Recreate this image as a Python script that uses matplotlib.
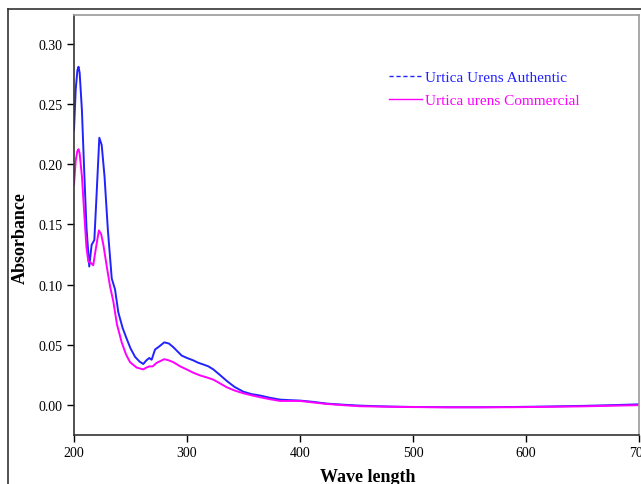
import matplotlib.pyplot as plt
from matplotlib.lines import Line2D

# wavelength (nm) / absorbance
wl_auth = [200, 201.5, 203, 204, 205, 207, 209, 211, 213.5, 215.6, 218, 220, 222.4, 224.5,
           227, 230, 233.4, 236.3, 239.2, 243, 246.6, 250, 254, 258, 261.3, 264, 266.6,
           268.7, 271.7, 276, 279.9, 284, 287.9, 291, 295.3, 300, 305.6, 310, 314.4,
           319, 323.3, 329, 335.1, 342, 349.8, 357, 364.6, 373, 382.3, 390, 400,
           412, 423.6, 438, 453, 470, 482, 500, 530, 560, 590, 620, 650, 680, 700]
abs_auth = [0.228, 0.262, 0.278, 0.281, 0.276, 0.245, 0.195, 0.148, 0.115, 0.133, 0.137,
            0.175, 0.222, 0.216, 0.190, 0.145, 0.105, 0.096, 0.077, 0.064, 0.055, 0.047,
            0.040, 0.036, 0.034, 0.037, 0.039, 0.0375, 0.046, 0.049, 0.052, 0.051,
            0.048, 0.045, 0.041, 0.039, 0.037, 0.035, 0.0336, 0.032, 0.0295, 0.025,
            0.020, 0.015, 0.011, 0.009, 0.0078, 0.006, 0.0044, 0.004, 0.0036, 0.0025,
            0.0011, 0.0002, -0.0006, -0.0011, -0.0014, -0.0017, -0.0019, -0.0019,
            -0.0017, -0.0013, -0.0008, -0.0001, 0.0005]

wl_comm = [200, 201.5, 203, 204, 205, 207, 209, 211, 212.7, 215, 217, 219, 222, 224,
           226, 229, 232, 234.8, 238, 242.2, 246, 249.6, 255.5, 261.3, 264, 266.6,
           269.6, 273.2, 276.5, 279.9, 284, 287.9, 294, 299.7, 305, 311.5, 317, 323.3,
           329, 335.1, 342, 349.8, 357, 364.6, 373, 382.3, 390, 400, 412, 423.6, 438,
           453, 470, 482, 500, 530, 560, 590, 620, 650, 680, 700]
abs_comm = [0.183, 0.203, 0.211, 0.2125, 0.209, 0.190, 0.160, 0.131, 0.119, 0.118, 0.116,
            0.128, 0.145, 0.142, 0.133, 0.115, 0.098, 0.086, 0.067, 0.052, 0.042, 0.0355,
            0.031, 0.0295, 0.031, 0.032, 0.032, 0.035, 0.0365, 0.038, 0.037, 0.0355,
            0.032, 0.0295, 0.027, 0.0245, 0.023, 0.021, 0.018, 0.0147, 0.012, 0.0097,
            0.008, 0.0064, 0.0048, 0.0033, 0.0033, 0.0033, 0.002, 0.0008, -0.0002,
            -0.0011, -0.0014, -0.0016, -0.0018, -0.002, -0.002, -0.0019, -0.0016,
            -0.0012, -0.0006, -0.0002]

x_ticks = [200, 300, 400, 500, 600, 700]
y_ticks = [0.00, 0.05, 0.10, 0.15, 0.20, 0.25, 0.30]

BLUE = "#2222ff"
MAGENTA = "#ff00ff"

plt.rcParams["font.family"] = ["Liberation Serif", "DejaVu Serif"]

fig = plt.figure(figsize=(6.41, 4.85), dpi=100)
ax = fig.add_axes([74 / 641, 1 - 436 / 485, 565 / 641, 420 / 485])

ax.plot(wl_auth, abs_auth, color=BLUE, linewidth=1.4)
ax.plot(wl_comm, abs_comm, color=MAGENTA, linewidth=1.4)

ax.set_xlim(200, 700)
ax.set_ylim(-0.025, 0.324)
ax.set_xticks(x_ticks)
ax.set_xticklabels([str(t) for t in x_ticks])
ax.set_yticks(y_ticks)
ax.set_yticklabels([f"{t:.2f}" for t in y_ticks])
ax.tick_params(direction="out", length=5, width=1, labelsize=10, pad=3,
               top=False, right=False)

for side in ("left", "bottom"):
    ax.spines[side].set_color("#333333")
    ax.spines[side].set_linewidth(1.2)
for side in ("top", "right"):
    ax.spines[side].set_color("#999999")
    ax.spines[side].set_linewidth(1.2)

ax.set_xlabel("Wave length", fontsize=13, fontweight="bold")
ax.set_ylabel("Absorbance", fontsize=13, fontweight="bold")
ax.xaxis.set_label_coords((367.5 - 74) / 565, (436 - 469) / 420)
ax.yaxis.set_label_coords((29 - 74) / 565, (436 - 238) / 420)

handles = [
    Line2D([], [], color=BLUE, linewidth=1, linestyle=(0, (3, 2))),
    Line2D([], [], color=MAGENTA, linewidth=1),
]
ax.legend(handles, ["Urtica Urens Authentic", "Urtica urens Commercial"],
          loc="upper left", bbox_to_anchor=((381 - 74) / 565, (436 - 64) / 420),
          frameon=False, fontsize=11, labelcolor="linecolor", borderpad=0,
          handlelength=2.2, handletextpad=0.2, labelspacing=0.6)

# outer frame of the screenshot
fig.add_artist(Line2D([8 / 641, 8 / 641], [0, 1 - 10 / 485], color="#333333",
                      linewidth=1.2, transform=fig.transFigure))
fig.add_artist(Line2D([8 / 641, 1], [1 - 10 / 485, 1 - 10 / 485], color="#333333",
                      linewidth=1.2, transform=fig.transFigure))

fig.savefig("out.png", dpi=100)
